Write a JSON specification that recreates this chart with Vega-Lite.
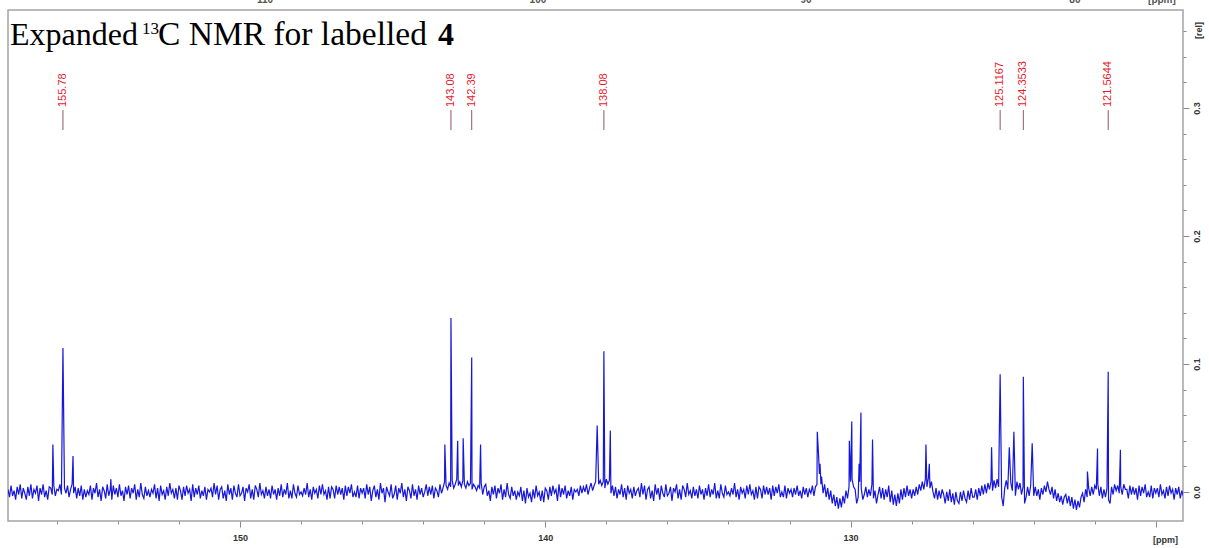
{
  "$schema": "https://vega.github.io/schema/vega-lite/v6.json",
  "autosize": "none",
  "width": 1175,
  "height": 511,
  "padding": {"left": 8, "top": 10, "right": 26, "bottom": 27},
  "background": "white",
  "config": {"view": {"stroke": "#a4a4a4", "strokeWidth": 1.5}},
  "resolve": {"axis": {"x": "independent", "y": "independent"}},
  "datasets": {
    "spectrum": [
      {"p":157.6,"i":0.002},{"p":157.55,"i":-0.004},{"p":157.5,"i":0.005},{"p":157.45,"i":-0.003},{"p":157.4,"i":0.001},{"p":157.35,"i":-0.006},{"p":157.3,"i":0.004},{"p":157.25,"i":-0.002},{"p":157.2,"i":0.006},{"p":157.15,"i":-0.005},{"p":157.1,"i":0.003},{"p":157.05,"i":-0.001},{"p":157,"i":-0.006},
      {"p":156.95,"i":0.004},{"p":156.9,"i":-0.003},{"p":156.85,"i":0.006},{"p":156.8,"i":-0.005},{"p":156.75,"i":0.002},{"p":156.7,"i":-0.001},{"p":156.65,"i":0.005},{"p":156.6,"i":-0.007},{"p":156.55,"i":0.003},{"p":156.5,"i":-0.002},{"p":156.45,"i":0.006},{"p":156.4,"i":-0.004},{"p":156.35,"i":0.001},{"p":156.3,"i":-0.006},{"p":156.25,"i":0.004},{"p":156.2,"i":0.003},{"p":156.15,"i":-0.002},{"p":156.1,"i":0.005},{"p":156.05,"i":-0.003},{"p":156,"i":0.002},
      {"p":155.95,"i":0.001},{"p":155.9,"i":0.006},{"p":155.85,"i":-0.002},{"p":155.75,"i":0.003},{"p":155.7,"i":-0.001},{"p":155.65,"i":0.005},{"p":155.6,"i":-0.004},{"p":155.55,"i":0.002},{"p":155.5,"i":0.006},{"p":155.45,"i":-0.001},{"p":155.4,"i":0.004},{"p":155.35,"i":-0.005},{"p":155.3,"i":0.003},{"p":155.25,"i":-0.003},{"p":155.2,"i":0.005},{"p":155.15,"i":-0.006},{"p":155.1,"i":0.002},{"p":155.05,"i":-0.004},{"p":155,"i":0.001},
      {"p":154.95,"i":-0.002},{"p":154.9,"i":0.005},{"p":154.85,"i":-0.006},{"p":154.8,"i":0.003},{"p":154.75,"i":-0.001},{"p":154.7,"i":0.007},{"p":154.65,"i":-0.004},{"p":154.6,"i":0.002},{"p":154.55,"i":-0.007},{"p":154.5,"i":0.004},{"p":154.45,"i":0.001},{"p":154.4,"i":-0.005},{"p":154.35,"i":0.006},{"p":154.3,"i":-0.003},{"p":154.25,"i":0.002},{"p":154.2,"i":-0.006},{"p":154.15,"i":0.005},{"p":154.1,"i":-0.002},{"p":154.05,"i":0.003},{"p":154,"i":-0.004},
      {"p":153.95,"i":0.006},{"p":153.9,"i":-0.003},{"p":153.85,"i":0.001},{"p":153.8,"i":-0.007},{"p":153.75,"i":0.004},{"p":153.7,"i":-0.002},{"p":153.65,"i":0.005},{"p":153.6,"i":-0.005},{"p":153.55,"i":0.003},{"p":153.5,"i":-0.001},{"p":153.45,"i":0.006},{"p":153.4,"i":-0.006},{"p":153.35,"i":0.002},{"p":153.3,"i":-0.004},{"p":153.25,"i":0.007},{"p":153.2,"i":-0.002},{"p":153.15,"i":-0.005},{"p":153.1,"i":0.004},{"p":153.05,"i":-0.003},{"p":153,"i":0.001},
      {"p":152.95,"i":-0.004},{"p":152.9,"i":0.002},{"p":152.85,"i":-0.001},{"p":152.8,"i":0.006},{"p":152.75,"i":-0.005},{"p":152.7,"i":0.003},{"p":152.65,"i":-0.007},{"p":152.6,"i":0.005},{"p":152.55,"i":-0.002},{"p":152.5,"i":0.001},{"p":152.45,"i":-0.006},{"p":152.4,"i":0.004},{"p":152.35,"i":-0.003},{"p":152.3,"i":0.007},{"p":152.25,"i":-0.001},{"p":152.2,"i":0.002},{"p":152.15,"i":-0.005},{"p":152.1,"i":0.003},{"p":152.05,"i":-0.006},{"p":152,"i":0.005},
      {"p":151.95,"i":0.001},{"p":151.9,"i":-0.006},{"p":151.85,"i":0.004},{"p":151.8,"i":-0.003},{"p":151.75,"i":0.005},{"p":151.7,"i":-0.001},{"p":151.65,"i":0.002},{"p":151.6,"i":-0.007},{"p":151.55,"i":0.006},{"p":151.5,"i":-0.004},{"p":151.45,"i":0.003},{"p":151.4,"i":-0.002},{"p":151.35,"i":0.005},{"p":151.3,"i":-0.005},{"p":151.25,"i":0.001},{"p":151.2,"i":-0.003},{"p":151.15,"i":0.004},{"p":151.1,"i":-0.006},{"p":151.05,"i":0.002},{"p":151,"i":0},
      {"p":150.95,"i":0.003},{"p":150.9,"i":-0.004},{"p":150.85,"i":0.007},{"p":150.8,"i":-0.002},{"p":150.75,"i":0.005},{"p":150.7,"i":-0.006},{"p":150.65,"i":0.002},{"p":150.6,"i":0.004},{"p":150.55,"i":-0.005},{"p":150.5,"i":0.001},{"p":150.45,"i":-0.007},{"p":150.4,"i":0.006},{"p":150.35,"i":-0.002},{"p":150.3,"i":0.003},{"p":150.25,"i":-0.006},{"p":150.2,"i":0.005},{"p":150.15,"i":-0.001},{"p":150.1,"i":-0.004},{"p":150.05,"i":0.006},{"p":150,"i":-0.003},
      {"p":149.95,"i":-0.001},{"p":149.9,"i":0.004},{"p":149.85,"i":-0.007},{"p":149.8,"i":0.003},{"p":149.75,"i":0},{"p":149.7,"i":0.006},{"p":149.65,"i":-0.005},{"p":149.6,"i":0.002},{"p":149.55,"i":-0.006},{"p":149.5,"i":0.005},{"p":149.45,"i":0.002},{"p":149.4,"i":-0.004},{"p":149.35,"i":0.007},{"p":149.3,"i":-0.002},{"p":149.25,"i":0.001},{"p":149.2,"i":-0.005},{"p":149.15,"i":0.004},{"p":149.1,"i":-0.003},{"p":149.05,"i":0.002},{"p":149,"i":-0.005},
      {"p":148.95,"i":0.005},{"p":148.9,"i":-0.002},{"p":148.85,"i":0.002},{"p":148.8,"i":-0.006},{"p":148.75,"i":0.003},{"p":148.7,"i":-0.003},{"p":148.65,"i":0.006},{"p":148.6,"i":-0.004},{"p":148.55,"i":0.002},{"p":148.5,"i":-0.002},{"p":148.45,"i":0.007},{"p":148.4,"i":-0.005},{"p":148.35,"i":0.001},{"p":148.3,"i":-0.005},{"p":148.25,"i":0.006},{"p":148.2,"i":-0.001},{"p":148.15,"i":-0.004},{"p":148.1,"i":0.005},{"p":148.05,"i":-0.002},{"p":148,"i":0},
      {"p":147.95,"i":-0.003},{"p":147.9,"i":0.003},{"p":147.85,"i":-0.002},{"p":147.8,"i":0.007},{"p":147.75,"i":-0.004},{"p":147.7,"i":0.002},{"p":147.65,"i":-0.006},{"p":147.6,"i":0.004},{"p":147.55,"i":-0.001},{"p":147.5,"i":0.002},{"p":147.45,"i":-0.005},{"p":147.4,"i":0.005},{"p":147.35,"i":-0.002},{"p":147.3,"i":0.006},{"p":147.25,"i":-0.002},{"p":147.2,"i":0.001},{"p":147.15,"i":-0.006},{"p":147.1,"i":0.004},{"p":147.05,"i":-0.005},{"p":147,"i":0.004},
      {"p":146.95,"i":0.002},{"p":146.9,"i":-0.005},{"p":146.85,"i":0.005},{"p":146.8,"i":-0.002},{"p":146.75,"i":0.004},{"p":146.7,"i":-0.002},{"p":146.65,"i":0.003},{"p":146.6,"i":-0.006},{"p":146.55,"i":0.005},{"p":146.5,"i":-0.003},{"p":146.45,"i":0.004},{"p":146.4,"i":-0.001},{"p":146.35,"i":0.006},{"p":146.3,"i":-0.004},{"p":146.25,"i":0},{"p":146.2,"i":-0.004},{"p":146.15,"i":0.005},{"p":146.1,"i":-0.005},{"p":146.05,"i":0.003},{"p":146,"i":-0.001},
      {"p":145.95,"i":0.003},{"p":145.9,"i":-0.005},{"p":145.85,"i":0.006},{"p":145.8,"i":-0.002},{"p":145.75,"i":0.004},{"p":145.7,"i":-0.007},{"p":145.65,"i":0.001},{"p":145.6,"i":0.005},{"p":145.55,"i":-0.004},{"p":145.5,"i":0.002},{"p":145.45,"i":-0.006},{"p":145.4,"i":0.007},{"p":145.35,"i":-0.001},{"p":145.3,"i":0.003},{"p":145.25,"i":-0.008},{"p":145.2,"i":0.004},{"p":145.15,"i":0},{"p":145.1,"i":-0.003},{"p":145.05,"i":0.006},{"p":145,"i":-0.005},
      {"p":144.95,"i":-0.002},{"p":144.9,"i":0.005},{"p":144.85,"i":-0.006},{"p":144.8,"i":0.003},{"p":144.75,"i":-0.001},{"p":144.7,"i":0.007},{"p":144.65,"i":-0.004},{"p":144.6,"i":0.002},{"p":144.55,"i":-0.007},{"p":144.5,"i":0.004},{"p":144.45,"i":0.001},{"p":144.4,"i":-0.005},{"p":144.35,"i":0.006},{"p":144.3,"i":-0.003},{"p":144.25,"i":0.002},{"p":144.2,"i":-0.006},{"p":144.15,"i":0.005},{"p":144.1,"i":-0.002},{"p":144.05,"i":0.003},{"p":144,"i":-0.004},
      {"p":143.95,"i":0},{"p":143.9,"i":0.006},{"p":143.85,"i":-0.003},{"p":143.8,"i":0.004},{"p":143.75,"i":-0.002},{"p":143.7,"i":0.005},{"p":143.65,"i":-0.005},{"p":143.6,"i":0.003},{"p":143.55,"i":0.001},{"p":143.5,"i":-0.004},{"p":143.45,"i":0.006},{"p":143.4,"i":-0.001},{"p":143.35,"i":0.003},{"p":143.3,"i":0.008},{"p":143.25,"i":0.005},{"p":143.2,"i":0.002},{"p":143.15,"i":0.007},{"p":143.1,"i":0.004},{"p":143.05,"i":0.009},{"p":143,"i":0.003},
      {"p":142.95,"i":0.006},{"p":142.9,"i":0.01},{"p":142.85,"i":0.005},{"p":142.8,"i":0.008},{"p":142.75,"i":0.004},{"p":142.7,"i":0.009},{"p":142.65,"i":0.006},{"p":142.6,"i":0.003},{"p":142.55,"i":0.008},{"p":142.5,"i":0.005},{"p":142.45,"i":0.007},{"p":142.4,"i":0.002},{"p":142.35,"i":0.006},{"p":142.3,"i":0.004},{"p":142.25,"i":0.001},{"p":142.2,"i":0.005},{"p":142.15,"i":0.003},{"p":142.1,"i":0.007},{"p":142.05,"i":-0.002},{"p":142,"i":0.004},
      {"p":141.95,"i":0.006},{"p":141.9,"i":-0.003},{"p":141.85,"i":0.001},{"p":141.8,"i":-0.007},{"p":141.75,"i":0.004},{"p":141.7,"i":-0.002},{"p":141.65,"i":0.005},{"p":141.6,"i":-0.005},{"p":141.55,"i":0.003},{"p":141.5,"i":-0.001},{"p":141.45,"i":0.006},{"p":141.4,"i":-0.006},{"p":141.35,"i":0.002},{"p":141.3,"i":-0.004},{"p":141.25,"i":0.007},{"p":141.2,"i":-0.002},{"p":141.15,"i":-0.005},{"p":141.1,"i":0.004},{"p":141.05,"i":-0.003},{"p":141,"i":0.001},
      {"p":140.95,"i":-0.006},{"p":140.9,"i":0},{"p":140.85,"i":-0.003},{"p":140.8,"i":0.004},{"p":140.75,"i":-0.007},{"p":140.7,"i":0.001},{"p":140.65,"i":-0.009},{"p":140.6,"i":0.003},{"p":140.55,"i":-0.004},{"p":140.5,"i":-0.001},{"p":140.45,"i":-0.008},{"p":140.4,"i":0.002},{"p":140.35,"i":-0.005},{"p":140.3,"i":0.005},{"p":140.25,"i":-0.003},{"p":140.2,"i":0},{"p":140.15,"i":-0.007},{"p":140.1,"i":0.001},{"p":140.05,"i":-0.008},{"p":140,"i":0.003},
      {"p":139.95,"i":0.001},{"p":139.9,"i":-0.006},{"p":139.85,"i":0.004},{"p":139.8,"i":-0.003},{"p":139.75,"i":0.005},{"p":139.7,"i":-0.001},{"p":139.65,"i":0.002},{"p":139.6,"i":-0.007},{"p":139.55,"i":0.006},{"p":139.5,"i":-0.004},{"p":139.45,"i":0.003},{"p":139.4,"i":-0.002},{"p":139.35,"i":0.005},{"p":139.3,"i":-0.005},{"p":139.25,"i":0.001},{"p":139.2,"i":-0.003},{"p":139.15,"i":0.004},{"p":139.1,"i":-0.006},{"p":139.05,"i":0.002},{"p":139,"i":0},
      {"p":138.95,"i":0.002},{"p":138.9,"i":-0.003},{"p":138.85,"i":0.005},{"p":138.8,"i":-0.001},{"p":138.75,"i":0.004},{"p":138.7,"i":0},{"p":138.65,"i":0.006},{"p":138.6,"i":-0.002},{"p":138.55,"i":0.003},{"p":138.5,"i":0.007},{"p":138.45,"i":0.001},{"p":138.4,"i":0.005},{"p":138.35,"i":0.008},{"p":138.25,"i":0.006},{"p":138.2,"i":0.009},{"p":138.15,"i":0.005},{"p":138.1,"i":0.008},{"p":138.05,"i":0.003},{"p":138,"i":0.01},
      {"p":137.95,"i":0.006},{"p":137.9,"i":0.009},{"p":137.85,"i":-0.001},{"p":137.8,"i":0.005},{"p":137.75,"i":-0.003},{"p":137.7,"i":0.004},{"p":137.65,"i":-0.005},{"p":137.6,"i":0.002},{"p":137.55,"i":-0.002},{"p":137.5,"i":0.006},{"p":137.45,"i":-0.004},{"p":137.4,"i":0.003},{"p":137.35,"i":-0.006},{"p":137.3,"i":0.005},{"p":137.25,"i":-0.001},{"p":137.2,"i":0.002},{"p":137.15,"i":-0.005},{"p":137.1,"i":0.004},{"p":137.05,"i":-0.003},{"p":137,"i":0.001},
      {"p":136.95,"i":0.003},{"p":136.9,"i":-0.004},{"p":136.85,"i":0.007},{"p":136.8,"i":-0.002},{"p":136.75,"i":0.005},{"p":136.7,"i":-0.006},{"p":136.65,"i":0.002},{"p":136.6,"i":0.004},{"p":136.55,"i":-0.005},{"p":136.5,"i":0.001},{"p":136.45,"i":-0.007},{"p":136.4,"i":0.006},{"p":136.35,"i":-0.002},{"p":136.3,"i":0.003},{"p":136.25,"i":-0.006},{"p":136.2,"i":0.005},{"p":136.15,"i":-0.001},{"p":136.1,"i":-0.004},{"p":136.05,"i":0.006},{"p":136,"i":-0.003},
      {"p":135.95,"i":-0.001},{"p":135.9,"i":0.004},{"p":135.85,"i":-0.007},{"p":135.8,"i":0.003},{"p":135.75,"i":0},{"p":135.7,"i":0.006},{"p":135.65,"i":-0.005},{"p":135.6,"i":0.002},{"p":135.55,"i":-0.006},{"p":135.5,"i":0.005},{"p":135.45,"i":0.002},{"p":135.4,"i":-0.004},{"p":135.35,"i":0.007},{"p":135.3,"i":-0.002},{"p":135.25,"i":0.001},{"p":135.2,"i":-0.005},{"p":135.15,"i":0.004},{"p":135.1,"i":-0.003},{"p":135.05,"i":0.002},{"p":135,"i":-0.005},
      {"p":134.95,"i":0.005},{"p":134.9,"i":-0.002},{"p":134.85,"i":0.002},{"p":134.8,"i":-0.006},{"p":134.75,"i":0.003},{"p":134.7,"i":-0.003},{"p":134.65,"i":0.006},{"p":134.6,"i":-0.004},{"p":134.55,"i":0.002},{"p":134.5,"i":-0.002},{"p":134.45,"i":0.007},{"p":134.4,"i":-0.005},{"p":134.35,"i":0.001},{"p":134.3,"i":-0.005},{"p":134.25,"i":0.006},{"p":134.2,"i":-0.001},{"p":134.15,"i":-0.004},{"p":134.1,"i":0.005},{"p":134.05,"i":-0.002},{"p":134,"i":0},
      {"p":133.95,"i":-0.003},{"p":133.9,"i":0.003},{"p":133.85,"i":-0.002},{"p":133.8,"i":0.007},{"p":133.75,"i":-0.004},{"p":133.7,"i":0.002},{"p":133.65,"i":-0.006},{"p":133.6,"i":0.004},{"p":133.55,"i":-0.001},{"p":133.5,"i":0.002},{"p":133.45,"i":-0.005},{"p":133.4,"i":0.005},{"p":133.35,"i":-0.002},{"p":133.3,"i":0.006},{"p":133.25,"i":-0.002},{"p":133.2,"i":0.001},{"p":133.15,"i":-0.006},{"p":133.1,"i":0.004},{"p":133.05,"i":-0.005},{"p":133,"i":0.004},
      {"p":132.95,"i":0.002},{"p":132.9,"i":-0.005},{"p":132.85,"i":0.005},{"p":132.8,"i":-0.002},{"p":132.75,"i":0.004},{"p":132.7,"i":-0.002},{"p":132.65,"i":0.003},{"p":132.6,"i":-0.006},{"p":132.55,"i":0.005},{"p":132.5,"i":-0.003},{"p":132.45,"i":0.004},{"p":132.4,"i":-0.001},{"p":132.35,"i":0.006},{"p":132.3,"i":-0.004},{"p":132.25,"i":0},{"p":132.2,"i":-0.004},{"p":132.15,"i":0.005},{"p":132.1,"i":-0.005},{"p":132.05,"i":0.003},{"p":132,"i":-0.001},
      {"p":131.95,"i":0.002},{"p":131.9,"i":-0.004},{"p":131.85,"i":0.003},{"p":131.8,"i":-0.002},{"p":131.75,"i":0.005},{"p":131.7,"i":-0.003},{"p":131.65,"i":0.001},{"p":131.6,"i":-0.005},{"p":131.55,"i":0.004},{"p":131.5,"i":-0.002},{"p":131.45,"i":0.003},{"p":131.4,"i":-0.004},{"p":131.35,"i":0.002},{"p":131.3,"i":-0.001},{"p":131.25,"i":0.005},{"p":131.2,"i":-0.003},{"p":131.15,"i":0.004},{"p":131.1,"i":0.006},{"p":131.05,"i":0.03},{"p":131.02,"i":0.014},{"p":131,"i":0.022},
      {"p":130.97,"i":0.006},{"p":130.95,"i":0.012},{"p":130.9,"i":-0.001},{"p":130.85,"i":0.006},{"p":130.8,"i":-0.004},{"p":130.75,"i":0.003},{"p":130.7,"i":-0.006},{"p":130.65,"i":0.001},{"p":130.6,"i":-0.009},{"p":130.55,"i":-0.002},{"p":130.5,"i":-0.011},{"p":130.45,"i":-0.004},{"p":130.4,"i":-0.013},{"p":130.35,"i":-0.005},{"p":130.3,"i":-0.012},{"p":130.25,"i":-0.003},{"p":130.2,"i":-0.009},{"p":130.15,"i":0.001},{"p":130.1,"i":-0.005},{"p":130.05,"i":0.004},{"p":130,"i":0.008},
      {"p":129.95,"i":0.01},{"p":129.9,"i":0.004},{"p":129.85,"i":0.002},{"p":129.8,"i":-0.009},{"p":129.75,"i":-0.004},{"p":129.7,"i":0.008},{"p":129.65,"i":0.003},{"p":129.6,"i":-0.006},{"p":129.55,"i":-0.002},{"p":129.5,"i":0.004},{"p":129.45,"i":-0.004},{"p":129.4,"i":0.002},{"p":129.35,"i":-0.003},{"p":129.3,"i":0.006},{"p":129.25,"i":-0.005},{"p":129.2,"i":0.001},{"p":129.15,"i":-0.009},{"p":129.1,"i":-0.002},{"p":129.05,"i":0.004},{"p":129,"i":-0.005},
      {"p":128.95,"i":0.003},{"p":128.9,"i":-0.006},{"p":128.85,"i":0.002},{"p":128.8,"i":-0.004},{"p":128.75,"i":0.005},{"p":128.7,"i":-0.008},{"p":128.65,"i":0.001},{"p":128.6,"i":-0.01},{"p":128.55,"i":-0.002},{"p":128.5,"i":-0.011},{"p":128.45,"i":-0.001},{"p":128.4,"i":-0.009},{"p":128.35,"i":0.002},{"p":128.3,"i":-0.006},{"p":128.25,"i":0.003},{"p":128.2,"i":-0.004},{"p":128.15,"i":0.005},{"p":128.1,"i":-0.003},{"p":128.05,"i":0.002},{"p":128,"i":-0.005},
      {"p":127.95,"i":0.002},{"p":127.9,"i":-0.003},{"p":127.85,"i":0.004},{"p":127.8,"i":-0.002},{"p":127.75,"i":0.006},{"p":127.7,"i":0.001},{"p":127.65,"i":0.008},{"p":127.6,"i":0.002},{"p":127.55,"i":0.01},{"p":127.5,"i":0.004},{"p":127.45,"i":0.011},{"p":127.4,"i":0.003},{"p":127.35,"i":0.008},{"p":127.3,"i":0},{"p":127.25,"i":-0.005},{"p":127.2,"i":0.003},{"p":127.15,"i":-0.006},{"p":127.1,"i":0.001},{"p":127.05,"i":-0.005},{"p":127,"i":0.002},
      {"p":126.95,"i":-0.002},{"p":126.9,"i":-0.009},{"p":126.85,"i":0},{"p":126.8,"i":-0.007},{"p":126.75,"i":0.002},{"p":126.7,"i":-0.008},{"p":126.65,"i":-0.001},{"p":126.6,"i":-0.01},{"p":126.55,"i":0},{"p":126.5,"i":-0.007},{"p":126.45,"i":-0.009},{"p":126.4,"i":0},{"p":126.35,"i":-0.007},{"p":126.3,"i":0.001},{"p":126.25,"i":-0.005},{"p":126.2,"i":-0.008},{"p":126.15,"i":0.001},{"p":126.1,"i":-0.006},{"p":126.05,"i":0.003},{"p":126,"i":-0.004},
      {"p":125.95,"i":-0.004},{"p":125.9,"i":0.002},{"p":125.85,"i":-0.006},{"p":125.8,"i":0.003},{"p":125.75,"i":-0.003},{"p":125.7,"i":0.005},{"p":125.65,"i":-0.002},{"p":125.6,"i":0.006},{"p":125.55,"i":-0.001},{"p":125.5,"i":0.007},{"p":125.45,"i":0.002},{"p":125.4,"i":0.008},{"p":125.35,"i":0.001},{"p":125.3,"i":0.009},{"p":125.25,"i":0.003},{"p":125.2,"i":0.01},{"p":125.15,"i":0.004},{"p":125.05,"i":-0.004},{"p":125,"i":-0.011},
      {"p":124.95,"i":0.003},{"p":124.9,"i":0.009},{"p":124.85,"i":0.002},{"p":124.75,"i":0.007},{"p":124.7,"i":0.001},{"p":124.6,"i":-0.003},{"p":124.55,"i":0.008},{"p":124.5,"i":0.002},{"p":124.45,"i":0.007},{"p":124.4,"i":-0.002},{"p":124.35,"i":0.004},{"p":124.3,"i":-0.009},{"p":124.25,"i":-0.004},{"p":124.2,"i":0.004},{"p":124.15,"i":-0.003},{"p":124.1,"i":0.005},{"p":124,"i":-0.003},
      {"p":123.95,"i":0.004},{"p":123.9,"i":-0.003},{"p":123.85,"i":0.002},{"p":123.8,"i":-0.006},{"p":123.75,"i":0.003},{"p":123.7,"i":-0.002},{"p":123.65,"i":0.005},{"p":123.6,"i":0},{"p":123.55,"i":0.008},{"p":123.5,"i":0.002},{"p":123.45,"i":-0.002},{"p":123.4,"i":0.004},{"p":123.35,"i":-0.005},{"p":123.3,"i":0.002},{"p":123.25,"i":-0.007},{"p":123.2,"i":-0.001},{"p":123.15,"i":-0.008},{"p":123.1,"i":-0.003},{"p":123.05,"i":-0.01},{"p":123,"i":-0.004},
      {"p":122.95,"i":-0.002},{"p":122.9,"i":-0.009},{"p":122.85,"i":-0.003},{"p":122.8,"i":-0.011},{"p":122.75,"i":-0.004},{"p":122.7,"i":-0.013},{"p":122.65,"i":-0.006},{"p":122.6,"i":-0.014},{"p":122.55,"i":-0.007},{"p":122.5,"i":-0.012},{"p":122.45,"i":-0.004},{"p":122.4,"i":-0.001},{"p":122.35,"i":-0.008},{"p":122.3,"i":0.002},{"p":122.25,"i":-0.004},{"p":122.2,"i":0.003},{"p":122.15,"i":-0.003},{"p":122.1,"i":0.004},{"p":122.05,"i":-0.002},{"p":122,"i":0.005},
      {"p":121.95,"i":0.002},{"p":121.9,"i":0.006},{"p":121.85,"i":-0.003},{"p":121.8,"i":0.004},{"p":121.75,"i":-0.005},{"p":121.7,"i":0.002},{"p":121.65,"i":-0.004},{"p":121.6,"i":0.003},{"p":121.55,"i":-0.006},{"p":121.5,"i":-0.009},{"p":121.45,"i":0.004},{"p":121.4,"i":-0.002},{"p":121.35,"i":0.006},{"p":121.3,"i":0.001},{"p":121.25,"i":0.005},{"p":121.2,"i":-0.001},{"p":121.15,"i":0.004},{"p":121.1,"i":-0.002},{"p":121.05,"i":0.006},{"p":121,"i":0.002},
      {"p":120.95,"i":0.002},{"p":120.9,"i":-0.005},{"p":120.85,"i":0.005},{"p":120.8,"i":-0.002},{"p":120.75,"i":0.004},{"p":120.7,"i":-0.002},{"p":120.65,"i":0.003},{"p":120.6,"i":-0.006},{"p":120.55,"i":0.005},{"p":120.5,"i":-0.003},{"p":120.45,"i":0.004},{"p":120.4,"i":-0.001},{"p":120.35,"i":0.006},{"p":120.3,"i":-0.004},{"p":120.25,"i":0},{"p":120.2,"i":-0.004},{"p":120.15,"i":0.005},{"p":120.1,"i":-0.005},{"p":120.05,"i":0.003},{"p":120,"i":-0.001},
      {"p":119.95,"i":0.003},{"p":119.9,"i":-0.004},{"p":119.85,"i":0.006},{"p":119.8,"i":-0.002},{"p":119.75,"i":0.001},{"p":119.7,"i":-0.005},{"p":119.65,"i":0.004},{"p":119.6,"i":-0.003},{"p":119.55,"i":0.005},{"p":119.5,"i":-0.001},{"p":119.45,"i":0.002},{"p":119.4,"i":-0.006},{"p":119.35,"i":0.003},{"p":119.3,"i":-0.002},{"p":119.25,"i":0.004},{"p":119.2,"i":-0.005},{"p":119.15,"i":0.001},{"p":119.1,"i":-0.003},
      {"p":156.13,"i":0.037},{"p":155.8,"i":0.1125},{"p":155.47,"i":0.028},{"p":154.23,"i":0.01},
      {"p":143.29,"i":0.037},{"p":143.09,"i":0.136},{"p":142.87,"i":0.04},{"p":142.69,"i":0.042},{"p":142.41,"i":0.105},{"p":142.12,"i":0.037},
      {"p":138.3,"i":0.052},{"p":138.08,"i":0.11},{"p":137.87,"i":0.048},
      {"p":131.09,"i":0.047},{"p":130.04,"i":0.04},{"p":129.96,"i":0.055},{"p":129.72,"i":0.022},{"p":129.66,"i":0.062},{"p":129.28,"i":0.041},
      {"p":127.53,"i":0.037},{"p":127.42,"i":0.022},
      {"p":125.38,"i":0.035},{"p":125.1,"i":0.092},{"p":124.8,"i":0.035},{"p":124.65,"i":0.047},{"p":124.34,"i":0.09},{"p":124.05,"i":0.038},
      {"p":122.24,"i":0.016},{"p":121.91,"i":0.034},{"p":121.56,"i":0.094},{"p":121.16,"i":0.033}
    ],
    "peaks": [
      {"p":155.8,"t":"155.78"},{"p":143.09,"t":"143.08"},{"p":142.41,"t":"142.39"},{"p":138.08,"t":"138.08"},
      {"p":125.1,"t":"125.1167"},{"p":124.34,"t":"124.3533"},{"p":121.56,"t":"121.5644"}
    ],
    "topstrip": [
      {"p":149.18,"t":"110"},{"p":140.24,"t":"100"},{"p":131.46,"t":"90"},{"p":122.65,"t":"80"},{"p":119.8,"t":"[ppm]"}
    ]
  },
  "layer": [
    {
      "data": {"name": "spectrum"},
      "mark": {"type": "line", "color": "#1616dc", "strokeWidth": 1.2, "clip": true},
      "encoding": {
        "x": {
          "field": "p", "type": "quantitative",
          "scale": {"domain": [119.11, 157.6], "reverse": true, "nice": false, "zero": false},
          "axis": {
            "orient": "bottom",
            "values": [120,130,140,150],
            "labelExpr": "datum.value === 120 ? '' : format(datum.value, 'd')",
            "tickSize": 6,
            "tickColor": "#8a8a8a",
            "domain": false,
            "grid": false,
            "labelFont": "Liberation Sans", "labelFontSize": 9, "labelFontWeight": "bold", "labelColor": "#333333",
            "labelPadding": 6, "labelOverlap": false, "labelFlush": false,
            "title": "[ppm]", "titleX": 1157, "titleY": 18, "titleAlign": "center", "titleBaseline": "middle",
            "titleFont": "Liberation Sans", "titleFontSize": 9, "titleFontWeight": "bold", "titleColor": "#333333"
          }
        },
        "y": {
          "field": "i", "type": "quantitative",
          "scale": {"domain": [-0.0227, 0.3766], "nice": false, "zero": false},
          "axis": {
            "orient": "right",
            "values": [0,0.1,0.2,0.3],
            "format": ".1f",
            "tickSize": 6,
            "tickColor": "#8a8a8a",
            "domain": false,
            "grid": false,
            "labelAngle": -90, "labelAlign": "center", "labelBaseline": "middle", "labelPadding": 7,
            "labelFont": "Liberation Sans", "labelFontSize": 9, "labelFontWeight": "bold", "labelColor": "#333333",
            "labelOverlap": false, "labelFlush": false,
            "title": "[rel]", "titleAngle": -90, "titleX": 15, "titleY": 20, "titleAlign": "center", "titleBaseline": "middle",
            "titleFont": "Liberation Sans", "titleFontSize": 9, "titleFontWeight": "bold", "titleColor": "#333333"
          }
        }
      }
    },
    {
      "data": {"name": "peaks"},
      "mark": {"type": "rule", "color": "#8c5a64", "strokeWidth": 1},
      "encoding": {
        "x": {
          "field": "p", "type": "quantitative",
          "axis": {
            "orient": "bottom",
            "values": [122,124,126,128,132,134,136,138,142,144,146,148,152,154,156],
            "labels": false, "tickSize": 3, "tickColor": "#8a8a8a", "domain": false, "grid": false, "title": null
          }
        },
        "y": {
          "datum": 0.2984, "type": "quantitative",
          "axis": {
            "orient": "right",
            "values": [0.02,0.04,0.06,0.08,0.12,0.14,0.16,0.18,0.22,0.24,0.26,0.28,0.32,0.34,0.36],
            "labels": false, "tickSize": 3, "tickColor": "#8a8a8a", "domain": false, "grid": false, "title": null
          }
        },
        "y2": {"datum": 0.2828}
      }
    },
    {
      "data": {"name": "peaks"},
      "mark": {"type": "text", "angle": -90, "align": "left", "baseline": "middle", "font": "Liberation Sans", "fontSize": 11, "color": "#e41c2c"},
      "encoding": {
        "x": {"field": "p", "type": "quantitative", "axis": null},
        "y": {"datum": 0.3008, "type": "quantitative", "axis": null},
        "text": {"field": "t"}
      }
    },
    {
      "data": {"name": "topstrip"},
      "mark": {"type": "text", "align": "center", "baseline": "alphabetic", "font": "Liberation Sans", "fontSize": 10, "fontWeight": "bold", "color": "#555555"},
      "encoding": {
        "x": {"field": "p", "type": "quantitative", "axis": null},
        "y": {"datum": 0.382, "type": "quantitative", "axis": null},
        "text": {"field": "t"}
      }
    },
    {
      "data": {"values": [{}]},
      "mark": {"type": "text", "text": "Expanded", "align": "left", "baseline": "alphabetic", "font": "Liberation Serif", "fontSize": 32, "color": "black"},
      "encoding": {
        "x": {"datum": 157.534, "type": "quantitative", "axis": null},
        "y": {"datum": 0.3492, "type": "quantitative", "axis": null}
      }
    },
    {
      "data": {"values": [{}]},
      "mark": {"type": "text", "text": "13", "align": "left", "baseline": "alphabetic", "font": "Liberation Serif", "fontSize": 17, "color": "black"},
      "encoding": {
        "x": {"datum": 153.21, "type": "quantitative", "axis": null},
        "y": {"datum": 0.3582, "type": "quantitative", "axis": null}
      }
    },
    {
      "data": {"values": [{}]},
      "mark": {"type": "text", "text": "C NMR for labelled", "align": "left", "baseline": "alphabetic", "font": "Liberation Serif", "fontSize": 33.5, "color": "black"},
      "encoding": {
        "x": {"datum": 152.686, "type": "quantitative", "axis": null},
        "y": {"datum": 0.3492, "type": "quantitative", "axis": null}
      }
    },
    {
      "data": {"values": [{}]},
      "mark": {"type": "text", "text": "4", "align": "left", "baseline": "alphabetic", "font": "Liberation Serif", "fontSize": 32, "fontWeight": "bold", "color": "black"},
      "encoding": {
        "x": {"datum": 143.515, "type": "quantitative", "axis": null},
        "y": {"datum": 0.3492, "type": "quantitative", "axis": null}
      }
    }
  ]
}
